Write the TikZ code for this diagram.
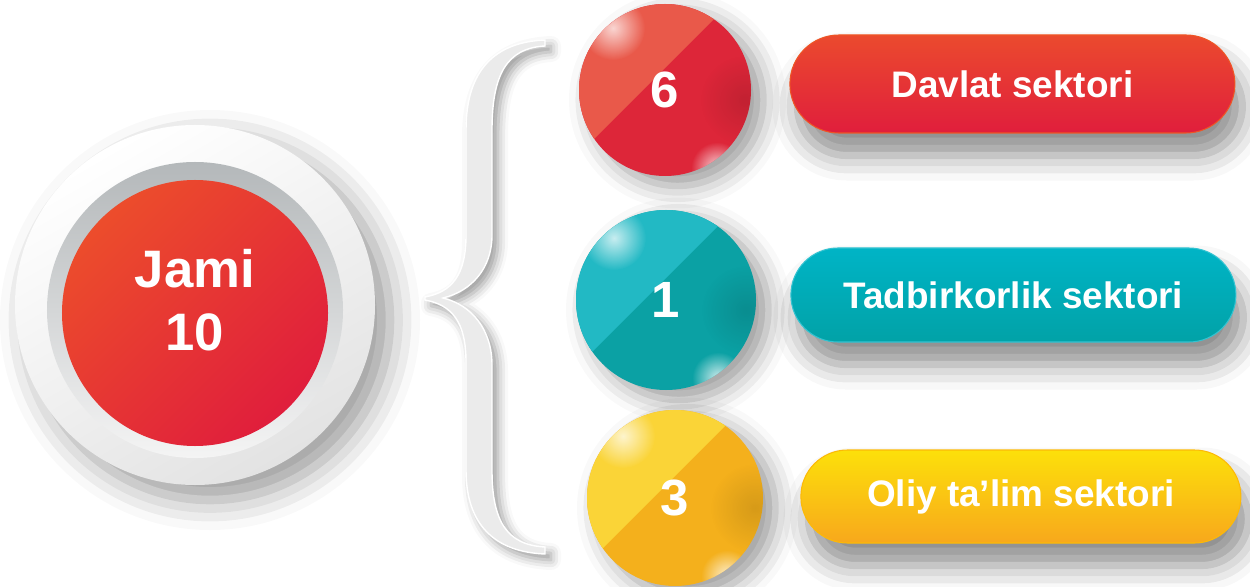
\documentclass[tikz,border=0pt]{standalone}
\usepackage{fontspec}
\setmainfont{Liberation Sans}
\usetikzlibrary{positioning,shapes.misc,shadows.blur,fadings}

\definecolor{redlight}{HTML}{E9594A}
\definecolor{reddark}{HTML}{DD2639}
\definecolor{redtop}{HTML}{EB4A2E}
\definecolor{redbot}{HTML}{E01E3C}
\definecolor{teallight}{HTML}{22B9C4}
\definecolor{tealdark}{HTML}{0BA1A4}
\definecolor{tealtop}{HTML}{00B4C6}
\definecolor{tealbot}{HTML}{01A2A7}
\definecolor{yellowlight}{HTML}{FAD437}
\definecolor{yellowdark}{HTML}{F4B01C}
\definecolor{yellowtop}{HTML}{FCE00A}
\definecolor{yellowbot}{HTML}{F8A81C}
\definecolor{ringtop}{HTML}{B4B8BA}
\definecolor{ringbot}{HTML}{F4F4F4}

\tikzfading[name=glow, inner color=transparent!0, outer color=transparent!100]

\begin{document}
\begin{tikzpicture}[
        x=0.2mm, y=-0.2mm,
        node distance=7.2mm,
        every node/.style={text=white, inner sep=0pt},
        ball/.style={circle, font=\fontsize{29}{30}\selectfont\bfseries,
            blur shadow={shadow xshift=2.5mm, shadow yshift=-2mm, shadow blur radius=4.5mm, shadow opacity=40}},
        pill/.style={rounded rectangle, minimum width=89mm, font=\fontsize{21}{24}\selectfont\bfseries,
            blur shadow={shadow xshift=1.5mm, shadow yshift=-4.5mm, shadow blur radius=5mm, shadow opacity=45}}
    ]
    \useasboundingbox (0,0) rectangle (1250,587);

    % Total
    \node (outer) at (195,305) [circle, minimum size=72mm, top color=white, bottom color=gray!22, shading angle=30,
        blur shadow={shadow xshift=3mm, shadow yshift=-3mm, shadow blur radius=6mm, shadow opacity=40}] {};
    \node (ring) at (195,310) [circle, minimum size=59.2mm, top color=ringtop, bottom color=ringbot] {};
    \node (total) at (195,313) [circle, minimum size=53.2mm, top color=redtop!95!orange, bottom color=redbot, shading angle=45] {};
    \node (jami) at (195,300) [align=center, font=\fontsize{30}{36}\selectfont\bfseries] {Jami\\10};

    % Brace
    \fill[gray!16, draw=white, line width=0.8pt,
        blur shadow={shadow xshift=1.2mm, shadow yshift=-1.2mm, shadow blur radius=2mm, shadow opacity=40}]
        (545,40) .. controls (495,42) and (466,70) .. (466,130) -- (466,235)
        .. controls (466,275) and (452,292) .. (425,297) -- (425,300)
        .. controls (452,305) and (466,322) .. (466,362) -- (466,470)
        .. controls (466,525) and (495,552) .. (545,554) -- (545,547)
        .. controls (506,545) and (492,520) .. (492,470) -- (492,365)
        .. controls (492,330) and (472,305) .. (443,298)
        .. controls (472,291) and (492,268) .. (492,235) -- (492,130)
        .. controls (492,76) and (506,48) .. (545,46) -- cycle;

    % Numbers
    \node (n6) at (665,90) [ball, minimum size=34.4mm, fill=reddark] {};
    \node (n1) at (666,300) [ball, minimum size=36mm, fill=tealdark] {};
    \node (n3) at (675,498) [ball, minimum size=35.2mm, fill=yellowdark] {};

    \foreach \n/\r/\c in {n6/86/redlight, n1/90/teallight, n3/88/yellowlight}{
        \begin{scope}[shift={(\n.center)}]
            \clip (0,0) circle (\r);
            \fill[\c] (-211,189) -- (189,-211) -- (-300,-300) -- cycle;
            \fill[black, opacity=0.12, path fading=glow] (80,10) circle (45);
            \fill[white, opacity=0.75, path fading=glow] (-52,-62) circle (32);
            \fill[white, opacity=0.8, path fading=glow] (52,78) circle (26);
        \end{scope}
    }

    \node at (n6) [font=\fontsize{29}{30}\selectfont\bfseries] {6};
    \node at (n1) [font=\fontsize{29}{30}\selectfont\bfseries] {1};
    \node at (n3) [font=\fontsize{29}{30}\selectfont\bfseries] {3};

    % Sectors
    \node (davlat) [pill, right=7.6mm of n6, yshift=1.2mm, minimum height=19.6mm,
        top color=redtop, bottom color=redbot, draw=redtop!80!orange, line width=0.6pt] {Davlat sektori};
    \node (tadbir) [pill, right=6.8mm of n1, yshift=1mm, minimum height=18.8mm,
        top color=tealtop, bottom color=tealbot, draw=tealtop!80!white, line width=0.6pt] {Tadbirkorlik sektori};
    \node (oliy) [pill, right=7.4mm of n3, yshift=0.3mm, minimum height=18.6mm, minimum width=88mm,
        top color=yellowtop, bottom color=yellowbot, draw=yellowtop!60!orange, line width=0.6pt] {Oliy ta’lim sektori};

\end{tikzpicture}
\end{document}
